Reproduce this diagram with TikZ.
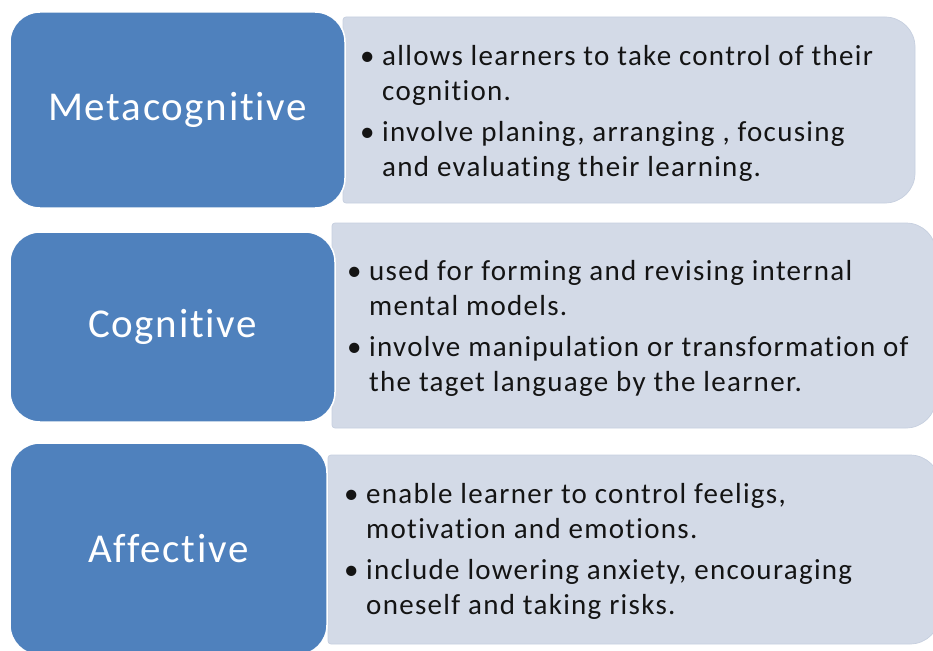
\documentclass[tikz,border=0pt]{standalone}
\usepackage{fontspec}
\setmainfont{Carlito}[Ligatures=NoCommon]
\newfontfamily\catfont{Carlito}[Ligatures=NoCommon, LetterSpace=4]
\newfontfamily\descfont{Carlito}[Ligatures=NoCommon, LetterSpace=4.5]
\usepackage{tikz}
\usetikzlibrary{positioning}

\definecolor{catblue}{RGB}{79,129,189}
\definecolor{descgray}{RGB}{211,218,231}
\definecolor{descline}{RGB}{198,207,223}
\definecolor{desctxt}{RGB}{20,20,20}

\newcommand{\itm}{\makebox[22pt][l]{\textbullet}}
\newcommand{\cont}{\hspace*{22pt}}

\tikzset{
  catbox/.style={draw=white, line width=1.5pt, fill=catblue, rounded corners=30pt,
    text=white, inner sep=0pt, font=\catfont\fontsize{41}{48}\selectfont},
  descbox/.style={fill=descgray, draw=descline, line width=0.7pt},
  desctext/.style={anchor=base west, inner sep=0pt, text=desctxt,
    font=\descfont\fontsize{29}{35}\selectfont}
}

\begin{document}
\begin{tikzpicture}[x=1pt, y=-1pt]
    \useasboundingbox (0,0) rectangle (933,650);

    % Descriptions (behind)
    \path[descbox] (343,110) [rounded corners=3pt] -- (343,17) -- (600,17)
        [rounded corners=30pt] -- (915,17) -- (915,203) -- (600,203)
        [rounded corners=3pt] -- (343,203) -- cycle;
    \path[descbox] (332,325) [rounded corners=3pt] -- (332,223) -- (600,223)
        [rounded corners=30pt] -- (936,223) -- (936,428) -- (600,428)
        [rounded corners=3pt] -- (332,428) -- cycle;
    \path[descbox] (328,550) [rounded corners=3pt] -- (328,455) -- (600,455)
        [rounded corners=30pt] -- (940,455) -- (940,644) -- (600,644)
        [rounded corners=3pt] -- (328,644) -- cycle;

    % Categories
    \node[catbox, minimum width=335pt, minimum height=196pt] (meta) at (177.5,110) {Metacognitive};
    \node[catbox, minimum width=325pt, minimum height=190pt] (cogn) at (172.5,327) {Cognitive};
    \node[catbox, minimum width=317pt, minimum height=212pt] (affe) at (168.5,549) {Affective};

    % Texts
    \node[desctext] (metatext) at (360,66) {\begin{tabular}[t]{@{}l@{}}
        \itm allows learners to take control of their\\
        \cont cognition.\\[6pt]
        \itm involve planing, arranging , focusing\\
        \cont and evaluating their learning.
    \end{tabular}};
    \node[desctext] (cogntext) at (347,280) {\begin{tabular}[t]{@{}l@{}}
        \itm used for forming and revising internal\\
        \cont mental models.\\[6pt]
        \itm involve manipulation or transformation of\\
        \cont the taget language by the learner.
    \end{tabular}};
    \node[desctext] (affetext) at (344,503) {\begin{tabular}[t]{@{}l@{}}
        \itm enable learner to control feeligs,\\
        \cont motivation and emotions.\\[6pt]
        \itm include lowering anxiety, encouraging\\
        \cont oneself and taking risks.
    \end{tabular}};
\end{tikzpicture}
\end{document}
